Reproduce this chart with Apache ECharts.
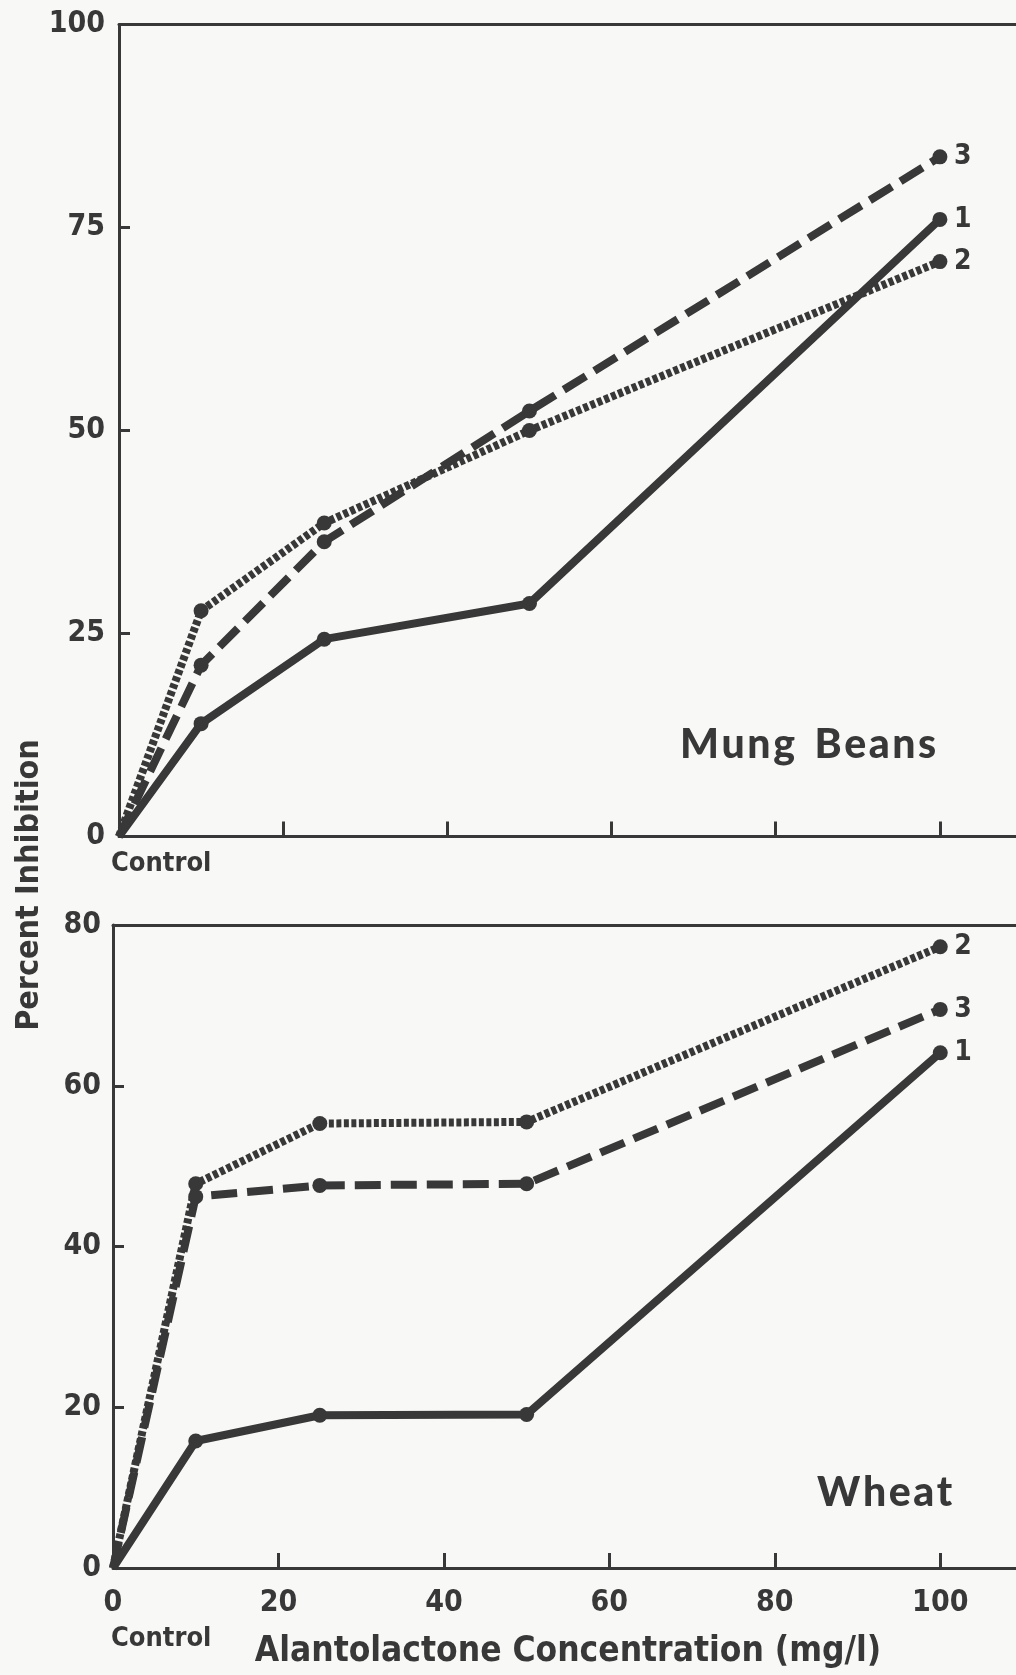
<!DOCTYPE html>
<html>
<head>
<meta charset="utf-8">
<script src="https://cdn.jsdelivr.net/npm/echarts@6/dist/echarts.min.js"></script>
<style>
html,body{margin:0;padding:0;background:#f8f8f6;}
#c{width:1016px;height:1675px;}
</style>
</head>
<body>
<div id="c"></div>
<script>
const concentrations = [0, 10, 25, 50, 100];
const xTickValues = [0, 20, 40, 60, 80, 100];
const mungTickValues = [0, 25, 50, 75, 100];
const wheatTickValues = [0, 20, 40, 60, 80];
const mungCurve1 = [0, 13.9, 24.3, 28.7, 76.0];
const mungCurve2 = [0, 27.8, 38.6, 50.0, 70.8];
const mungCurve3 = [0, 21.1, 36.3, 52.4, 83.7];
const wheatCurve1 = [0, 15.8, 19.0, 19.1, 64.1];
const wheatCurve2 = [0, 47.8, 55.3, 55.5, 77.3];
const wheatCurve3 = [0, 46.2, 47.6, 47.8, 69.5];
const curveNames = ['1', '2', '3'];

const INK = '#383838';
const NUM_FONT = '"DejaVu Sans Condensed","Liberation Sans Narrow",sans-serif';
const HS = '\u200A';

function pairs(ys){ return concentrations.map((x,i)=>({value:[x, ys[i]], symbolSize: x===0?0:15})); }

const styles = [
  {type:'solid', width:8},
  {type:[5,2.5], width:8},
  {type:[26,10], width:8}
];

function makeSeries(arrs, gi){
  return arrs.map((ys, k)=>({
    type:'line', xAxisIndex:gi, yAxisIndex:gi, name:curveNames[k],
    data: pairs(ys), symbol:'circle', showSymbol:true,
    itemStyle:{color:INK},
    lineStyle:{color:INK, width:styles[k].width, type:styles[k].type, cap:'butt', join:'round'},
    endLabel:{show:true, formatter:curveNames[k], color:INK, fontFamily:NUM_FONT, fontWeight:'bold', fontSize:28, distance:14},
    animation:false, z:3
  }));
}

const chart = echarts.init(document.getElementById('c'), null, {renderer:'canvas'});
const labelStyle = {color:INK, fontFamily:NUM_FONT, fontWeight:'bold', fontSize:30};
const line = {show:true, lineStyle:{color:INK, width:3}};
const X_MAX = 110;
const topLine = (gi)=>({gridIndex:gi, type:'value', position:'top', min:0, max:X_MAX,
  axisLine:line, axisTick:{show:false}, axisLabel:{show:false}, splitLine:{show:false}});
const bottomX = (gi, showLabels)=>({gridIndex:gi, type:'value', min:0, max:X_MAX,
  axisLine:line, splitLine:{show:false},
  axisTick:{show:true, inside:true, length:15, customValues:xTickValues, lineStyle:{color:INK, width:3}},
  axisLabel:Object.assign({show:showLabels, margin:20, customValues:xTickValues}, labelStyle)});
const leftY = (gi, maxV, ticks, margin)=>({gridIndex:gi, type:'value', min:0, max:maxV,
  axisLine:line, splitLine:{show:false},
  axisTick:{show:true, inside:true, length:11, customValues:ticks, lineStyle:{color:INK, width:3}},
  axisLabel:Object.assign({margin:margin, customValues:ticks}, labelStyle)});

const xBottom = bottomX(1, true);
xBottom.name = 'Alantolactone Concentration (mg/l)';
xBottom.nameLocation = 'start';
xBottom.nameGap = 66;
xBottom.nameTextStyle = {color:INK, fontFamily:NUM_FONT, fontWeight:'bold', fontSize:35};
xBottom.nameLocation = 'middle';

chart.setOption({
  backgroundColor:'#f8f8f6',
  animation:false,
  grid:[
    {left:119, top:24.5, width:903, height:812, outerBoundsMode:'none', containLabel:false},
    {left:113, top:925, width:910, height:643, outerBoundsMode:'none', containLabel:false}
  ],
  xAxis:[ bottomX(0, false), xBottom, topLine(0), topLine(1) ],
  yAxis:[ leftY(0, 100, mungTickValues, 14), leftY(1, 80, wheatTickValues, 12) ],
  graphic:[
    {type:'text', left:111, top:850, style:{text:'Control', fill:INK, font:'bold 27px '+NUM_FONT}},
    {type:'text', left:111, top:1625, style:{text:'Control', fill:INK, font:'bold 27px '+NUM_FONT}},
    {type:'text', left:680, top:724, style:{text:['M','u','n','g'].join(HS)+'  '+['B','e','a','n','s'].join(HS), fill:INK, font:'900 41px Lato, "Open Sans", sans-serif'}},
    {type:'text', left:817, top:1472, style:{text:['W','h','e','a','t'].join(HS), fill:INK, font:'900 41px Lato, "Open Sans", sans-serif'}},
    {type:'text', x:30, y:885, rotation:Math.PI/2, style:{text:'Percent Inhibition', fill:INK, font:'bold 32px '+NUM_FONT, align:'center', verticalAlign:'middle'}}
  ],
  series:[].concat(makeSeries([mungCurve1,mungCurve2,mungCurve3],0), makeSeries([wheatCurve1,wheatCurve2,wheatCurve3],1))
});
</script>
</body>
</html>
